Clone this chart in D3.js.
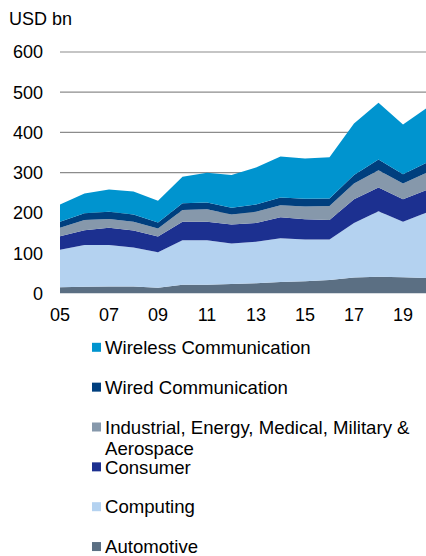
<!DOCTYPE html>
<html>
<head>
<meta charset="utf-8">
<script src="https://d3js.org/d3.v7.min.js"></script>
<style>
  body { margin: 0; background: #fff; }
  text { font-family: "Liberation Sans", Arial, sans-serif; fill: #000; }
</style>
</head>
<body>
<div id="chart"></div>
<script>
// years and series values (USD bn), bottom to top of the stack
var years = [2005, 2006, 2007, 2008, 2009, 2010, 2011, 2012, 2013, 2014, 2015, 2016, 2017, 2018, 2019, 2020];
var automotive = [15, 16, 17, 17, 14, 21, 21, 23, 25, 28, 30, 33, 39, 41, 40, 38];
var computing  = [93, 104, 103, 97, 88, 111, 111, 101, 103, 109, 104, 101, 136, 163, 138, 164];
var consumer   = [34, 37, 43, 42, 39, 46, 46, 47, 47, 52, 50, 48, 59, 59, 56, 56];
var industrial = [21, 25, 22, 22, 20, 29, 31, 25, 28, 30, 32, 35, 39, 43, 39, 43];
var wired      = [15, 17, 18, 18, 15, 17, 17, 17, 18, 19, 19, 19, 21, 27, 23, 25];
var wireless   = [43, 49, 55, 57, 54, 66, 74, 81, 92, 102, 100, 102, 128, 141, 124, 136];

var seriesNames = ["Automotive", "Computing", "Consumer",
                   "Industrial, Energy, Medical, Military & Aerospace",
                   "Wired Communication", "Wireless Communication"];
var seriesColors = ["#5b6f83", "#b4d2f0", "#1c3090", "#8698ab", "#003f7e", "#0094cf"];
var yTicks = [0, 100, 200, 300, 400, 500, 600];
var xTickLabels = ["05", "07", "09", "11", "13", "15", "17", "19"];

var width = 426, height = 556;

var svg = d3.select("#chart").append("svg")
  .attr("width", width)
  .attr("height", height);

// build table for the stack
var table = years.map(function(yr, i) {
  return {
    year: yr,
    Automotive: automotive[i],
    Computing: computing[i],
    Consumer: consumer[i],
    "Industrial, Energy, Medical, Military & Aerospace": industrial[i],
    "Wired Communication": wired[i],
    "Wireless Communication": wireless[i]
  };
});

var x = d3.scaleLinear().domain([2005, 2020]).range([60, 427.5]);
var y = d3.scaleLinear().domain([0, 600]).range([293.3, 52]);

// gridlines
svg.append("g").selectAll("line")
  .data(yTicks.filter(function(d) { return d > 0; }))
  .enter().append("line")
  .attr("x1", 60).attr("x2", width)
  .attr("y1", function(d) { return y(d); })
  .attr("y2", function(d) { return y(d); })
  .attr("stroke", "#8c8c8c")
  .attr("stroke-width", 1.2);

// stacked areas
var stack = d3.stack().keys(seriesNames);
var layers = stack(table);

var area = d3.area()
  .x(function(d) { return x(d.data.year); })
  .y0(function(d) { return y(d[0]); })
  .y1(function(d) { return y(d[1]); });

svg.append("g").selectAll("path")
  .data(layers)
  .enter().append("path")
  .attr("d", area)
  .attr("fill", function(d, i) { return seriesColors[i]; });

// y axis labels
svg.append("g").selectAll("text")
  .data(yTicks)
  .enter().append("text")
  .attr("x", 43)
  .attr("y", function(d) { return y(d); })
  .attr("dy", "0.36em")
  .attr("text-anchor", "end")
  .style("font-size", "18px")
  .text(function(d) { return d; });

svg.append("text")
  .attr("x", 9)
  .attr("y", 25)
  .style("font-size", "18px")
  .text("USD bn");

// x axis labels
svg.append("g").selectAll("text")
  .data(xTickLabels)
  .enter().append("text")
  .attr("x", function(d) { return x(2000 + (+d)); })
  .attr("y", 321)
  .attr("text-anchor", "middle")
  .style("font-size", "18px")
  .text(function(d) { return d; });

// legend, top entry is the top layer
var legendItems = seriesNames.map(function(n, i) { return { name: n, color: seriesColors[i] }; }).reverse();

var legend = svg.append("g").selectAll("g")
  .data(legendItems)
  .enter().append("g")
  .attr("transform", function(d, i) { return "translate(0," + (347.3 + i * 39.85) + ")"; });

legend.append("rect")
  .attr("x", 92).attr("y", -4.5)
  .attr("width", 9).attr("height", 9)
  .attr("fill", function(d) { return d.color; });

legend.each(function(d) {
  var g = d3.select(this);
  var parts = d.name === "Industrial, Energy, Medical, Military & Aerospace"
    ? ["Industrial, Energy, Medical, Military &", "Aerospace"] : [d.name];
  parts.forEach(function(p, j) {
    g.append("text")
      .attr("x", 105)
      .attr("y", j * 21.7)
      .attr("dy", "0.36em")
      .style("font-size", "18.6px")
      .text(p);
  });
});
</script>
</body>
</html>
